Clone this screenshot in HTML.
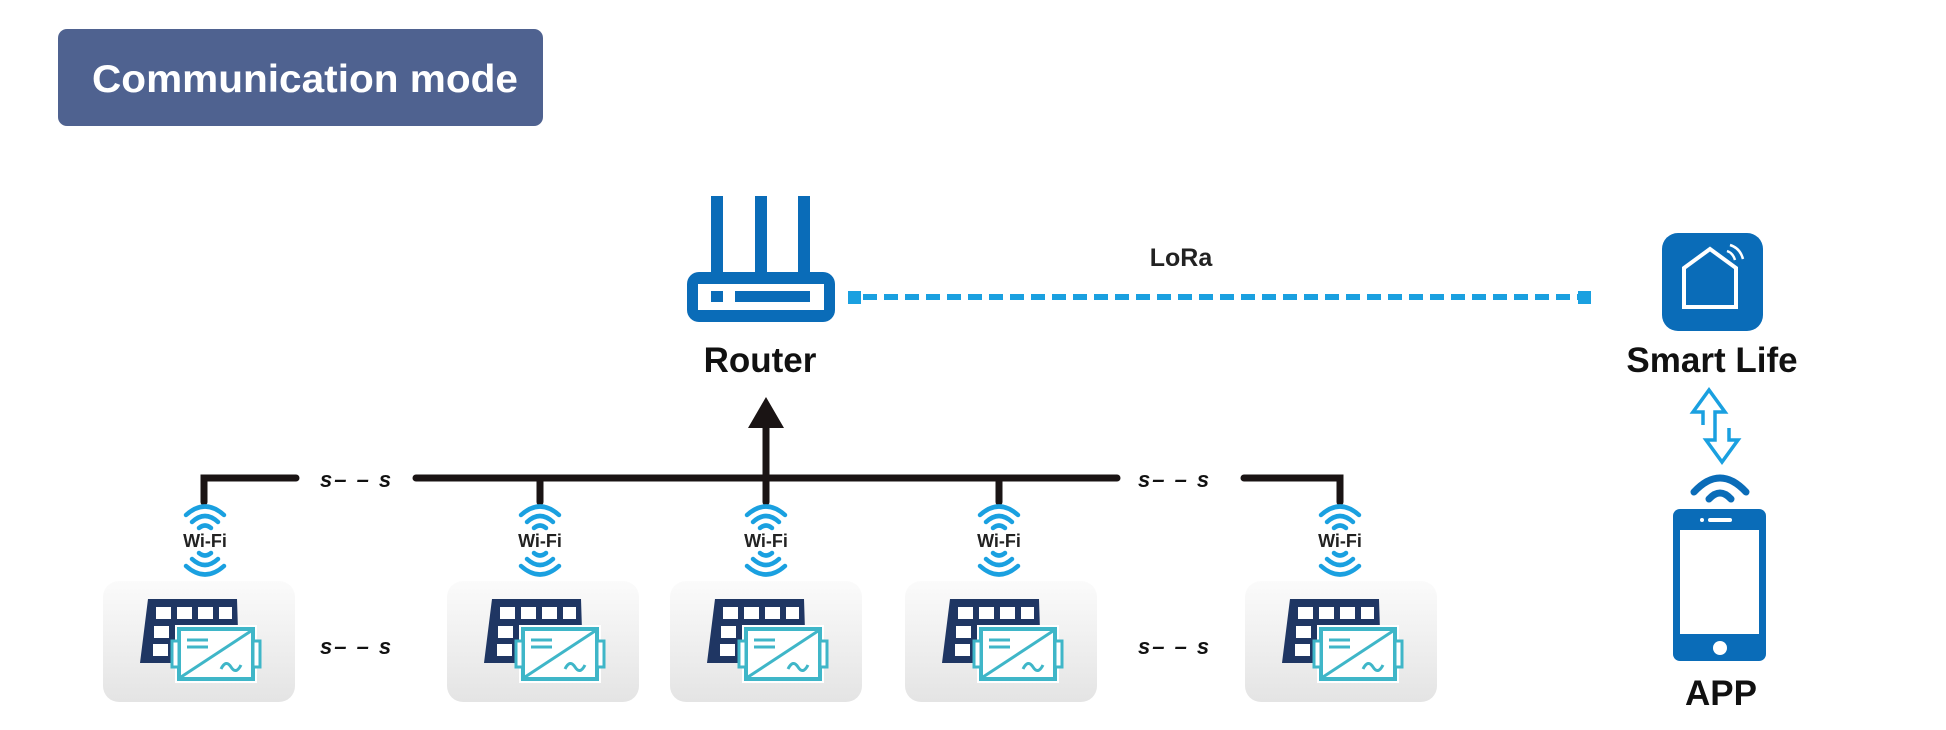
<!DOCTYPE html>
<html><head><meta charset="utf-8"><style>
html,body{margin:0;padding:0;background:#fff;}
svg{display:block;}
text{font-family:"Liberation Sans",sans-serif;font-weight:bold;}
</style></head><body>
<svg width="1946" height="730" viewBox="0 0 1946 730" xmlns="http://www.w3.org/2000/svg">
<defs>
<linearGradient id="cg" x1="0" y1="0" x2="0" y2="1">
<stop offset="0" stop-color="#fbfbfb"/><stop offset="1" stop-color="#e4e4e4"/>
</linearGradient>
<g id="card">
<rect x="0" y="0" width="192" height="121" rx="16" fill="url(#cg)"/>
<path d="M45,18 H134 L136,82 H37 Z" fill="#1f3663"/>
<g fill="#fff">
<rect x="53" y="26" width="15" height="12"/><rect x="74" y="26" width="15" height="12"/><rect x="95" y="26" width="15" height="12"/><rect x="116" y="26" width="13" height="12"/>
<rect x="51" y="45" width="15" height="12"/><rect x="50" y="63" width="15" height="12"/>
</g>
<rect x="72" y="44" width="82" height="58" fill="#fff"/>
<rect x="76" y="48" width="74" height="50" fill="#fff" stroke="#3fb6c8" stroke-width="4"/>
<rect x="69" y="60" width="7" height="26" fill="#fff" stroke="#3fb6c8" stroke-width="3"/>
<rect x="150" y="60" width="7" height="26" fill="#fff" stroke="#3fb6c8" stroke-width="3"/>
<line x1="78" y1="96" x2="148" y2="50" stroke="#3fb6c8" stroke-width="3"/>
<line x1="84" y1="59" x2="105" y2="59" stroke="#3fb6c8" stroke-width="3"/>
<line x1="84" y1="66" x2="105" y2="66" stroke="#3fb6c8" stroke-width="3"/>
<path d="M118,88 q5,-10 10,-2 t10,-2" fill="none" stroke="#3fb6c8" stroke-width="3"/>
</g>
<g id="wifi" fill="none" stroke="#1aa0e0" stroke-width="4.5" stroke-linecap="round">
<path d="M-19,515 Q0,498 19,515"/><path d="M-13,522 Q0,510 13,522"/><path d="M-6,528 Q0,523 6,528"/>
<path d="M-6,553 Q0,558 6,553"/><path d="M-13,559 Q0,571 13,559"/><path d="M-19,566 Q0,583 19,566"/>
<text x="0" y="547" text-anchor="middle" font-size="18" fill="#222" stroke="none">Wi-Fi</text>
</g>
<g id="ss"><text x="0" y="0" font-size="22" font-style="italic" fill="#111" letter-spacing="2">s– – s</text></g>
</defs>

<rect x="58" y="29" width="485" height="97" rx="9" fill="#4f6290"/>
<text x="92" y="92" font-size="39" fill="#fff" textLength="426" lengthAdjust="spacingAndGlyphs">Communication mode</text>

<g fill="#0a6cb8">
<rect x="711" y="196" width="12" height="80"/><rect x="755" y="196" width="12" height="80"/><rect x="798" y="196" width="12" height="80"/>
<rect x="687" y="272" width="148" height="50" rx="12"/>
</g>
<rect x="698" y="284" width="126" height="26" fill="#fff"/>
<rect x="711" y="291" width="12" height="11" fill="#0a6cb8"/>
<rect x="735" y="291" width="75" height="11" fill="#0a6cb8"/>
<text x="760" y="372" text-anchor="middle" font-size="35" fill="#111">Router</text>

<rect x="848" y="291" width="13" height="13" fill="#1aa0e0"/>
<rect x="1578" y="291" width="13" height="13" fill="#1aa0e0"/>
<line x1="863" y1="297" x2="1578" y2="297" stroke="#1aa0e0" stroke-width="6" stroke-dasharray="14 7"/>
<text x="1181" y="266" text-anchor="middle" font-size="25" fill="#222">LoRa</text>

<rect x="1662" y="233" width="101" height="98" rx="16" fill="#0a6cb8"/>
<path d="M1684,307 V268 L1710,249 L1736,268 V307 Z" fill="none" stroke="#fff" stroke-width="4"/>
<path d="M1727,251 q6,2 8,9 M1730,245 q10,3 13,14" fill="none" stroke="#fff" stroke-width="2.5"/>
<text x="1712" y="372" text-anchor="middle" font-size="35" fill="#111">Smart Life</text>
<path d="M1703,425 V412 H1693 L1709,390 L1725,412 H1715 V440 H1706 L1722,462 L1738,440 H1729 V428" fill="none" stroke="#1aa0e0" stroke-width="3.5"/>
<path d="M1694,492 Q1720,464 1746,492" fill="none" stroke="#0a6cb8" stroke-width="7" stroke-linecap="round"/>
<path d="M1709,499 Q1720,487 1731,499" fill="none" stroke="#0a6cb8" stroke-width="7" stroke-linecap="round"/>
<rect x="1673" y="509" width="93" height="152" rx="7" fill="#0a6cb8"/>
<rect x="1680" y="530" width="79" height="104" fill="#fff"/>
<rect x="1708" y="518" width="24" height="4" rx="2" fill="#fff"/>
<circle cx="1702" cy="520" r="2" fill="#fff"/>
<circle cx="1720" cy="648" r="7" fill="#fff"/>
<text x="1721" y="705" text-anchor="middle" font-size="35" fill="#111">APP</text>

<g stroke="#1a1414" stroke-width="7" fill="none" stroke-linecap="round">
<path d="M204,502 V478 H296"/>
<path d="M416,478 H1117"/>
<path d="M1244,478 H1340 V502"/>
<path d="M540,478 V502 M766,478 V502 M999,478 V502"/>
<path d="M766,478 V425"/>
</g>
<path d="M766,397 L784,428 H748 Z" fill="#1a1414"/>
<use href="#ss" x="320" y="487"/>
<use href="#ss" x="1138" y="487"/>
<use href="#ss" x="320" y="654"/>
<use href="#ss" x="1138" y="654"/>

<use href="#wifi" x="205" y="0"/>
<use href="#wifi" x="540" y="0"/>
<use href="#wifi" x="766" y="0"/>
<use href="#wifi" x="999" y="0"/>
<use href="#wifi" x="1340" y="0"/>

<use href="#card" x="103" y="581"/>
<use href="#card" x="447" y="581"/>
<use href="#card" x="670" y="581"/>
<use href="#card" x="905" y="581"/>
<use href="#card" x="1245" y="581"/>
</svg>
</body></html>
